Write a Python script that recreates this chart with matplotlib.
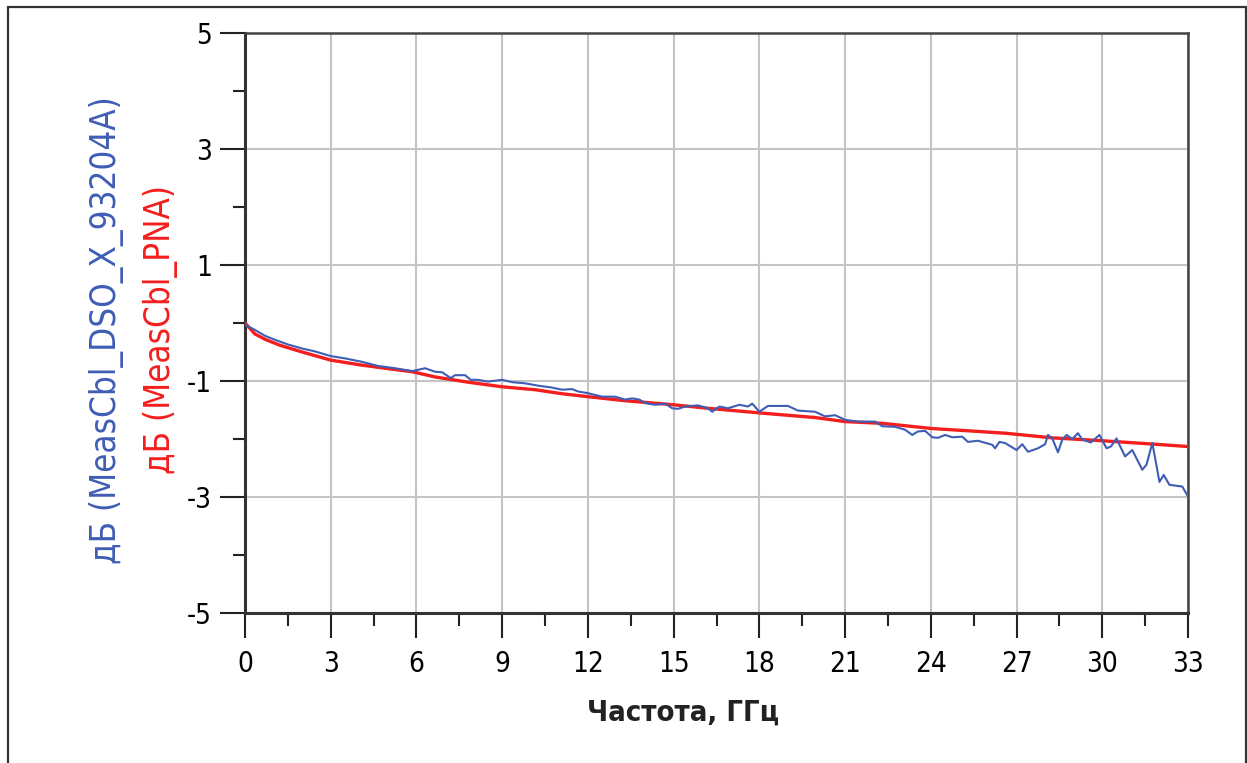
import matplotlib
matplotlib.use("Agg")
import matplotlib.pyplot as plt
from matplotlib.patches import Rectangle
from matplotlib.ticker import MultipleLocator

plt.rcParams['font.family'] = ['DejaVu Sans']
plt.rcParams['font.stretch'] = 'condensed'
plt.rcParams['axes.unicode_minus'] = False

# DSO X 93204A measurement (blue)
f_dso = [0, 0.35, 0.7, 1.05, 1.5, 2.0, 2.45, 3.0, 3.5, 4.1, 4.65, 5.25, 5.85, 6.3, 6.65,
         6.9, 7.2, 7.35, 7.7, 7.9, 8.15, 8.5, 9.0, 9.35, 9.8, 10.25, 10.7, 11.1, 11.45,
         11.65, 12.0, 12.5, 12.95, 13.3, 13.55, 13.8, 14.0, 14.35, 14.7, 14.95, 15.15,
         15.4, 15.85, 16.2, 16.35, 16.6, 16.9, 17.3, 17.6, 17.75, 18.0, 18.3, 19.0, 19.35,
         19.95, 20.3, 20.65, 21.0, 21.45, 22.05, 22.3, 22.75, 23.1, 23.35, 23.55, 23.8,
         24.05, 24.25, 24.5, 24.75, 25.1, 25.3, 25.65, 26.15, 26.25, 26.4, 26.6, 27.0,
         27.2, 27.4, 27.75, 28.0, 28.1, 28.25, 28.45, 28.6, 28.75, 28.95, 29.15, 29.3,
         29.6, 29.9, 30.15, 30.3, 30.5, 30.6, 30.8, 31.05, 31.4, 31.55, 31.75, 31.85,
         32.0, 32.15, 32.35, 32.65, 32.8, 33.0]
db_dso = [-0.03, -0.12, -0.22, -0.29, -0.37, -0.44, -0.49, -0.57, -0.61, -0.67, -0.74,
          -0.78, -0.83, -0.78, -0.84, -0.85, -0.95, -0.90, -0.90, -0.98, -0.98, -1.01,
          -0.98, -1.02, -1.04, -1.08, -1.11, -1.15, -1.14, -1.18, -1.21, -1.27, -1.27,
          -1.32, -1.30, -1.32, -1.38, -1.41, -1.39, -1.47, -1.48, -1.44, -1.42, -1.47,
          -1.53, -1.44, -1.47, -1.41, -1.44, -1.39, -1.53, -1.43, -1.43, -1.51, -1.53,
          -1.61, -1.59, -1.67, -1.70, -1.70, -1.78, -1.79, -1.84, -1.93, -1.87, -1.86,
          -1.97, -1.98, -1.93, -1.97, -1.96, -2.05, -2.03, -2.10, -2.16, -2.05, -2.07,
          -2.19, -2.09, -2.22, -2.16, -2.09, -1.93, -1.99, -2.23, -2.01, -1.93, -2.00,
          -1.90, -2.01, -2.06, -1.93, -2.16, -2.13, -1.99, -2.10, -2.30, -2.19, -2.53,
          -2.44, -2.07, -2.33, -2.74, -2.62, -2.79, -2.81, -2.82, -2.99]

# PNA measurement (red)
f_pna = [0, 0.35, 0.7, 1.2, 2.0, 3.0, 4.0, 4.9, 5.85, 6.65, 7.8, 9.0, 10.15, 11.1, 12.0,
         13.3, 15.0, 16.2, 18.0, 19.95, 21.0, 22.3, 24.05, 25.35, 26.6, 28.25, 30.0,
         31.85, 33.0]
db_pna = [0.0, -0.19, -0.28, -0.38, -0.50, -0.64, -0.72, -0.78, -0.84, -0.93, -1.02,
          -1.10, -1.15, -1.22, -1.27, -1.34, -1.41, -1.47, -1.55, -1.63, -1.70, -1.73,
          -1.82, -1.86, -1.90, -1.98, -2.03, -2.09, -2.13]

blue = '#3f5db5'
red = '#f41e1e'

fig = plt.figure(figsize=(12.47, 7.63), dpi=100)
ax = fig.add_axes([245/1247, 1 - 613/763, (1188-245)/1247, (613-33)/763])

ax.plot(f_pna, db_pna, color=red, lw=2.4, zorder=3)
ax.plot(f_dso, db_dso, color=blue, lw=1.5, zorder=4)

ax.set_xlim(0, 33)
ax.set_ylim(-5, 5)
ax.xaxis.set_major_locator(MultipleLocator(3))
ax.xaxis.set_minor_locator(MultipleLocator(1.5))
ax.yaxis.set_minor_locator(MultipleLocator(1))
ax.set_yticks([-5, -3, -1, 1, 3, 5])

ax.grid(True, which='major', color='#c4c4c4', lw=1.5)
ax.tick_params(which='major', direction='out', length=18, width=1.5, color='#222',
               labelsize=20, pad=6)
ax.tick_params(axis='x', which='major', pad=9)
ax.tick_params(which='minor', direction='out', length=9, width=1.5, color='#222')
for s in ['left', 'bottom']:
    ax.spines[s].set_linewidth(2.2)
    ax.spines[s].set_color('#333')
for s in ['top', 'right']:
    ax.spines[s].set_linewidth(1.8)
    ax.spines[s].set_color('#444')

fig.text(683/1247, 1 - 713/763, 'Частота, ГГц', ha='center', va='center',
         fontsize=21, fontweight='bold', color='#222')
fig.text(107/1247, 1 - 330/763, 'дБ (MeasCbl_DSO_X_93204A)', rotation=90,
         ha='center', va='center', fontsize=25, color=blue)
fig.text(160/1247, 1 - 329/763, 'дБ (MeasCbl_PNA)', rotation=90,
         ha='center', va='center', fontsize=25, color=red)

# outer frame
fig.patches.append(Rectangle((8/1247, -0.05), 1238/1247, 1.05 - 7/763, fill=False,
                             lw=1.6, edgecolor='#333', transform=fig.transFigure))

fig.savefig('out.png', dpi=100)
